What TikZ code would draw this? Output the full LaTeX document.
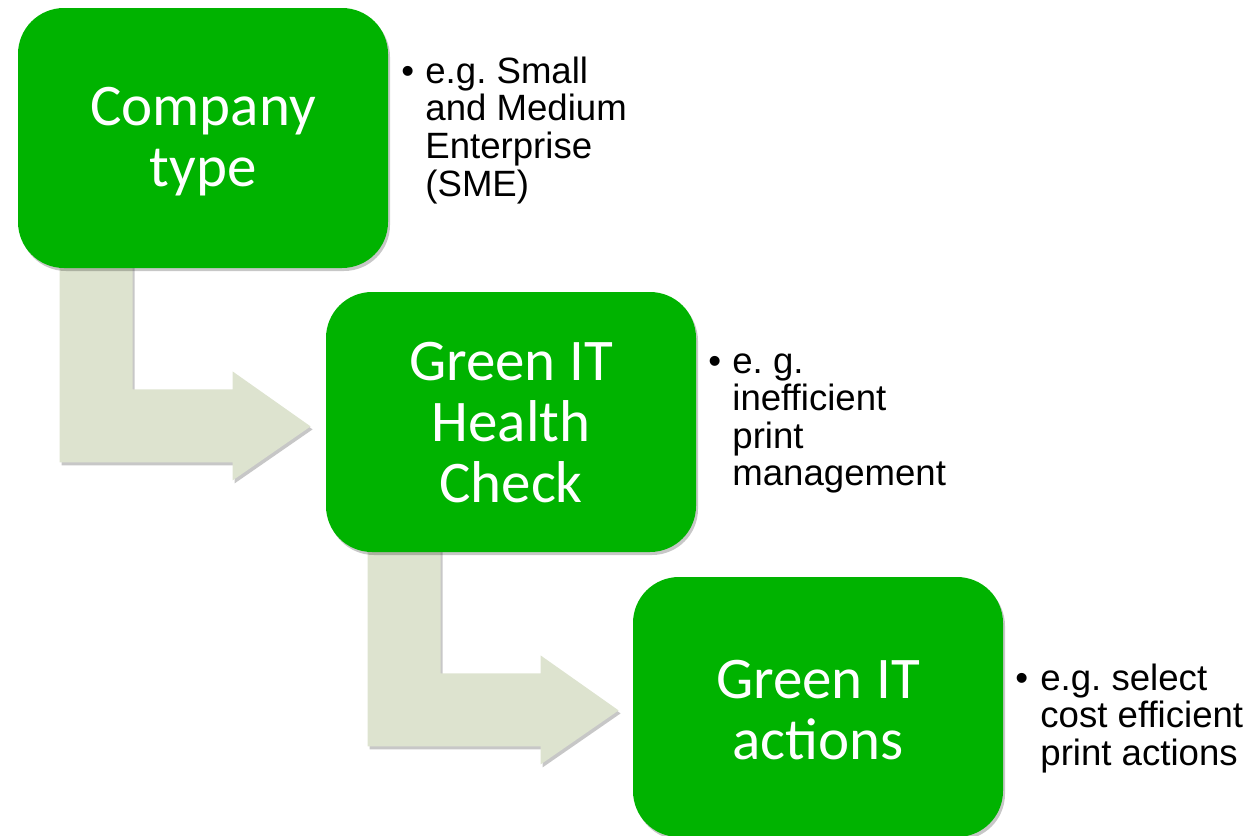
\documentclass[tikz,border=0pt]{standalone}
\usepackage{fontspec}
\setmainfont{Liberation Sans}
\newfontfamily\boxfont{Carlito}
\usetikzlibrary{shadows,backgrounds}
\definecolor{boxgreen}{RGB}{0,179,0}
\definecolor{arrowgrey}{RGB}{221,227,207}
\frenchspacing
\begin{document}
\begin{tikzpicture}[x=0.5pt,y=-0.5pt,
  softshadow/.style={drop shadow={shadow xshift=1pt, shadow yshift=-1.5pt, opacity=0.22, fill=black}},
  stage/.style={fill=boxgreen, rounded corners=23pt, minimum width=185pt, minimum height=130pt,
    inner sep=0pt, softshadow},
  stagetext/.style={inner sep=0pt, text=white, font=\boxfont\fontsize{29.5pt}{30.5pt}\selectfont, align=center},
  note/.style={inner sep=0pt, anchor=base west, font=\fontsize{18.3pt}{18.6pt}\selectfont},
  bendarrow/.style={fill=arrowgrey, softshadow}]
\useasboundingbox (0,0) rectangle (1254,836);
\node[stage] (b1) at (203,138) {};
\node[stage] (b2) at (511,422) {};
\node[stage] (b3) at (818,707) {};
\node[stagetext] (l1) at ([yshift=-2pt]b1.center) {Company\\type};
\node[stagetext] (l2) at ([yshift=-0.5pt]b2.center) {Green IT\\Health\\Check};
\node[stagetext] (l3) at ([yshift=-1.5pt]b3.center) {Green IT\\actions};
\begin{pgfonlayer}{background}
  \path[bendarrow, shift={(b1.south west)}] (42,-20) -- (115,-20) -- (115,121) -- (215,121) -- (215,103)
     -- (293,158) -- (215,212) -- (215,194) -- (42,194) -- cycle;
  \path[bendarrow, shift={(b2.south west)}] (42,-20) -- (115,-20) -- (115,121) -- (215,121) -- (215,103)
     -- (293,158) -- (215,212) -- (215,194) -- (42,194) -- cycle;
\end{pgfonlayer}
\node[note] (t1) at (401,83) {\makebox[12pt][l]{\textbullet}\begin{tabular}[t]{@{}l@{}}e.g. Small\\and Medium\\Enterprise\\(SME)\end{tabular}};
\node[note] (t2) at (708,373) {\makebox[12pt][l]{\textbullet}\begin{tabular}[t]{@{}l@{}}e. g.\\inefficient\\print\\management\end{tabular}};
\node[note] (t3) at (1015,690) {\makebox[12.5pt][l]{\textbullet}\begin{tabular}[t]{@{}l@{}}e.g. select\\cost efficient\\print actions\end{tabular}};
\end{tikzpicture}
\end{document}
